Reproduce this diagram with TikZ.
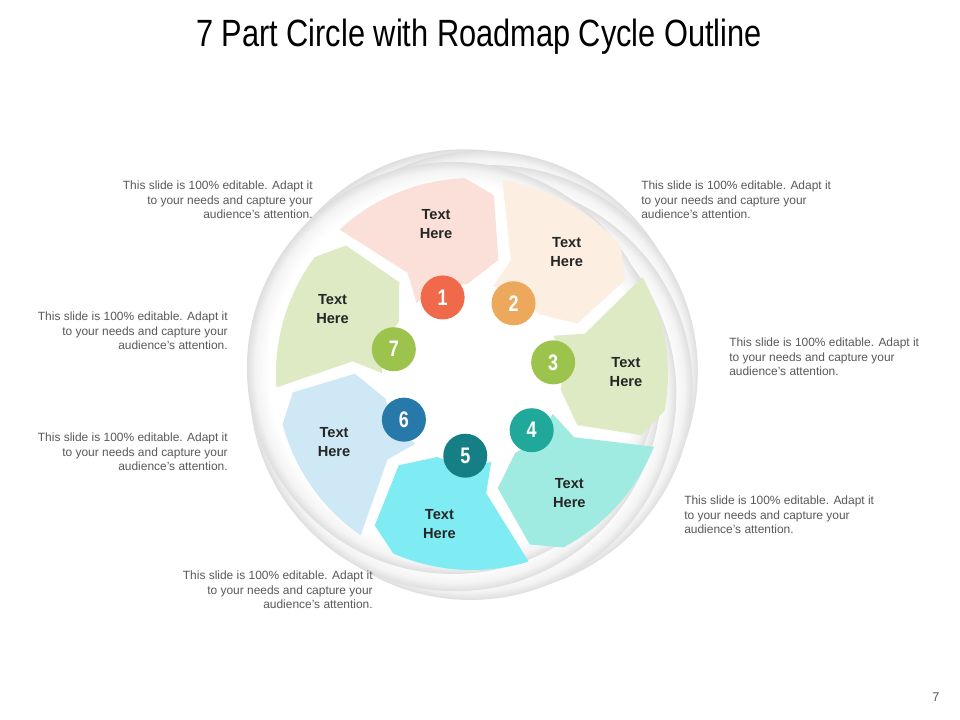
\documentclass[tikz,border=0pt]{standalone}
\usepackage{fontspec}
\setmainfont{Liberation Sans}
\newfontfamily\titlefont[FakeStretch=0.81]{Liberation Sans}
\newfontfamily\digitfont[FakeStretch=0.8]{Liberation Sans}
\usepackage{xcolor}
\definecolor{partA}{HTML}{FBE0D9}
\definecolor{partB}{HTML}{FCEEE1}
\definecolor{partC}{HTML}{DDEAC4}
\definecolor{partD}{HTML}{A0EBE1}
\definecolor{partE}{HTML}{7FEBF3}
\definecolor{partF}{HTML}{CFE8F5}
\definecolor{partG}{HTML}{DDEAC4}
\definecolor{dotA}{HTML}{F0694A}
\definecolor{dotB}{HTML}{EDA95B}
\definecolor{dotC}{HTML}{9CC34C}
\definecolor{dotD}{HTML}{20A99A}
\definecolor{dotE}{HTML}{167F86}
\definecolor{dotF}{HTML}{2679A8}
\definecolor{dotG}{HTML}{9CC34C}
\definecolor{textdark}{HTML}{262626}
\definecolor{notegray}{HTML}{595959}
\definecolor{rimlight}{gray}{0.955}
\definecolor{rimgray}{gray}{0.87}
\pgfdeclareradialshading{rimshade}{\pgfpoint{0bp}{0bp}}{color(0bp)=(white); color(22.3bp)=(white); color(24bp)=(rimlight); color(25bp)=(rimgray); color(50bp)=(rimgray)}
% one bent arrow piece of the wheel: #1 = middle angle, #2 = fill colour
\newcommand{\cyclepart}[2]{%
  \fill[#2] ({#1+21.5}:196) arc[start angle=#1+21.5, end angle=#1-19, radius=196]
    -- ({#1-28}:180) -- ({#1-34}:117) -- ({#1-18}:90)
    arc[start angle=#1-18, end angle=#1+17, radius=90]
    -- ({#1+11.5}:120) -- cycle;}

\begin{document}
\begin{tikzpicture}[
        x=0.025cm, y=0.025cm,
        lobe/.style={shading=rimshade},
        numdot/.style={circle, minimum size=1.1cm, inner sep=0pt, text=white,
                       font=\digitfont\bfseries\fontsize{16}{16}\selectfont},
        parttext/.style={align=center, text=textdark,
                         font=\bfseries\fontsize{10.4}{13.5}\selectfont},
        note/.style={text=notegray, inner sep=0pt,
                     font=\fontsize{8.5}{10.3}\selectfont},
      ]
        \path[fill=white, use as bounding box] (-472,-346) rectangle (488,374);
        \node[font=\titlefont\fontsize{27}{30}\selectfont, anchor=base] (title) at (7,327)
          {7 Part Circle with Roadmap Cycle Outline};

        % grey swirl behind the wheel
        \shade[lobe] (111:20) circle[radius=206];
        \shade[lobe] (59.57:20) circle[radius=206];
        \shade[lobe] (8.14:20) circle[radius=206];
        \shade[lobe] (-43.29:20) circle[radius=206];
        \shade[lobe] (-94.71:20) circle[radius=206];
        \shade[lobe] (-146.14:20) circle[radius=206];
        \shade[lobe] (-197.57:20) circle[radius=206];

        \cyclepart{111}{partA}
        \cyclepart{59.57}{partB}
        \cyclepart{8.14}{partC}
        \cyclepart{-43.29}{partD}
        \cyclepart{-94.71}{partE}
        \cyclepart{-146.14}{partF}
        \cyclepart{-197.57}{partG}

        \node[parttext] (txt1) at (103.5:154) {Text\\Here};
        \node[parttext] (txt2) at (52.07:154) {Text\\Here};
        \node[parttext] (txt3) at (0.64:154) {Text\\Here};
        \node[parttext] (txt4) at (-50.79:154) {Text\\Here};
        \node[parttext] (txt5) at (-102.21:154) {Text\\Here};
        \node[parttext] (txt6) at (-153.64:154) {Text\\Here};
        \node[parttext] (txt7) at (-205.07:154) {Text\\Here};

        \node[numdot, fill=dotA] (dot1) at (111:82) {1};
        \node[numdot, fill=dotB] (dot2) at (59.57:82) {2};
        \node[numdot, fill=dotC] (dot3) at (8.14:82) {3};
        \node[numdot, fill=dotD] (dot4) at (-43.29:82) {4};
        \node[numdot, fill=dotE] (dot5) at (-94.71:82) {5};
        \node[numdot, fill=dotF] (dot6) at (-146.14:82) {6};
        \node[numdot, fill=dotG] (dot7) at (-197.57:82) {7};

        \node[note, anchor=east, align=right] (note1) at (-159,174)
          {This slide is 100\% editable. Adapt it\\to your needs and capture your\\audience's attention.};
        \node[note, anchor=west, align=left] (note2) at (169,174)
          {This slide is 100\% editable. Adapt it\\to your needs and capture your\\audience's attention.};
        \node[note, anchor=west, align=left] (note3) at (257,17)
          {This slide is 100\% editable. Adapt it\\to your needs and capture your\\audience's attention.};
        \node[note, anchor=west, align=left] (note4) at (212,-141)
          {This slide is 100\% editable. Adapt it\\to your needs and capture your\\audience's attention.};
        \node[note, anchor=east, align=right] (note5) at (-99,-216)
          {This slide is 100\% editable. Adapt it\\to your needs and capture your\\audience's attention.};
        \node[note, anchor=east, align=right] (note6) at (-244,-78)
          {This slide is 100\% editable. Adapt it\\to your needs and capture your\\audience's attention.};
        \node[note, anchor=east, align=right] (note7) at (-244,43)
          {This slide is 100\% editable. Adapt it\\to your needs and capture your\\audience's attention.};

        \node[note, font=\fontsize{9}{9}\selectfont] (pagenum) at (464,-323) {7};
      \end{tikzpicture}
\end{document}
